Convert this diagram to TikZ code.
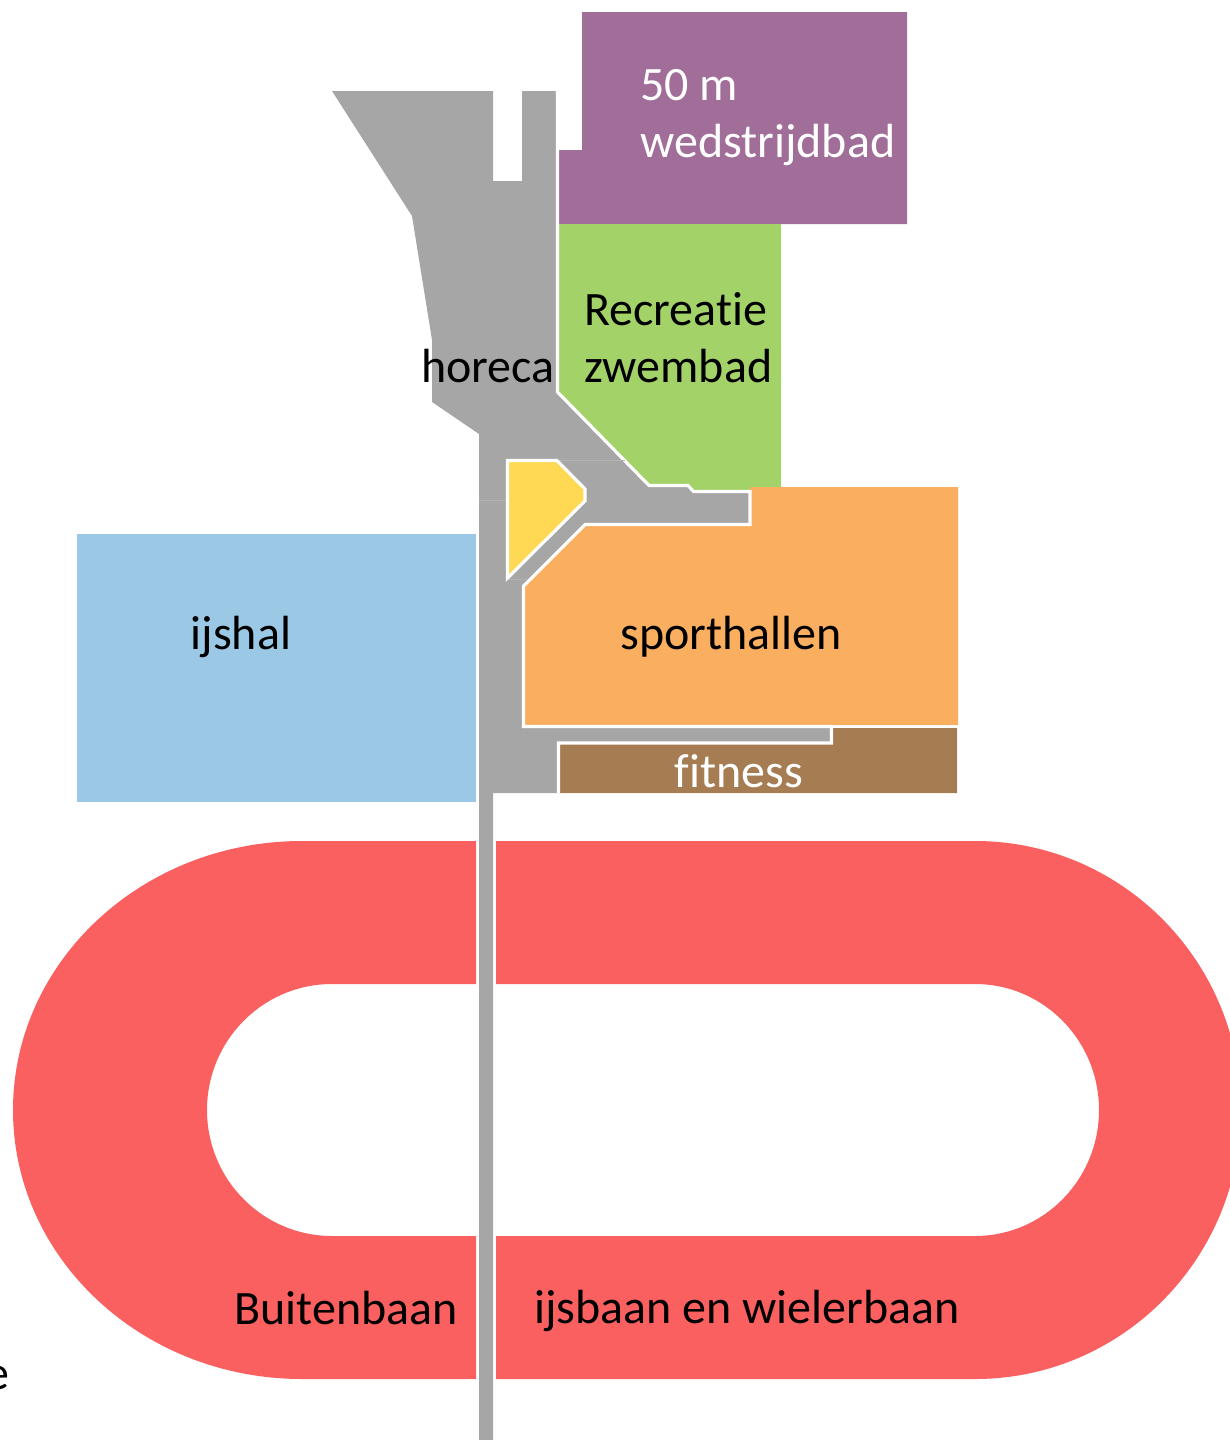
\documentclass[tikz,border=0pt]{standalone}
\usepackage{fontspec}
\setmainfont[Ligatures=CommonOff]{Carlito}
\definecolor{Purple}{RGB}{161, 110, 153}
\definecolor{Green}{RGB}{163, 210, 105}
\definecolor{Grey}{RGB}{166, 166, 166}
\definecolor{Yellow}{RGB}{255, 217, 84}
\definecolor{Orange}{RGB}{249, 174, 96}
\definecolor{Blue}{RGB}{155, 200, 229}
\definecolor{Brown}{RGB}{166, 124, 82}
\definecolor{Red}{RGB}{249, 96, 95}
\begin{document}
\begin{tikzpicture}[x=0.02cm, y=-0.02cm,
                zone/.style={draw=white, line width=1.8pt, line join=miter},
                label/.style={inner sep=0pt, align=left, font=\fontsize{27.3}{32.45}\selectfont},
                seam/.style={draw=Grey!85!white, line width=0.4pt}]

                \useasboundingbox (0,0) rectangle (1230,1440);
                \clip (0,0) rectangle (1230,1440);

                % Track
                \fill[Red] (476,841) -- (302,841) arc[start angle=-90, end angle=-270, x radius=289, y radius=269]
                    -- (476,1379) -- (476,1236) -- (332,1236)
                    arc[start angle=90, end angle=270, x radius=125, y radius=126] -- (476,984) -- cycle;
                \fill[Red] (496,841) -- (975,841) arc[start angle=-90, end angle=90, x radius=266, y radius=269]
                    -- (496,1379) -- (496,1236) -- (975,1236)
                    arc[start angle=90, end angle=-90, x radius=124, y radius=126] -- (496,984) -- cycle;

                % Halls
                \fill[Blue] (77,534) rectangle (476,802);
                \fill[Purple] (582,12) -- (907,12) -- (907,224) -- (559,224) -- (559,150) -- (582,150) -- cycle;
                \fill[Green] (559,224) -- (781,224) -- (781,495) -- (696,495) -- (690,489) -- (649,489) -- (559,392) -- cycle;
                \fill[Orange] (750,487) -- (958,487) -- (958,725) -- (523,725) -- (523,587) -- (585,526) -- (750,526) -- cycle;
                \fill[Brown] (833,728) -- (957,728) -- (957,793) -- (559,793) -- (559,744) -- (833,744) -- cycle;

                % Corridor
                \fill[Grey] (332,91) -- (493,91) -- (493,181) -- (522,181) -- (522,91) -- (557,91) -- (557,392)
                    -- (649,485.5) -- (688,485.5) -- (693.5,491.5) -- (750,491.5) -- (750,524.5) -- (585,524.5) -- (523.5,586)
                    -- (523.5,726.5) -- (831.5,726.5) -- (831.5,743) -- (558.5,743) -- (558.5,793) -- (493,793)
                    -- (493,1440) -- (479,1440) -- (479,434) -- (432,402) -- (432,340) -- (412,216) -- cycle;
                \draw[zone] (557.5,91) -- (557.5,392) -- (649,485.5) -- (688,485.5) -- (693.5,491.5) -- (750,491.5) -- (750,524.5)
                    -- (585,524.5) -- (523.5,586) -- (523.5,726.5) -- (831.5,726.5) -- (831.5,743) -- (558.5,743) -- (558.5,793);
                \draw[seam] (556,460) -- (625,460);
                \draw[seam] (479,500) -- (507,500);
                \draw[seam] (507,579) -- (528,579);

                % Yellow block
                \filldraw[zone, fill=Yellow] (507.5,460.5) -- (557,460.5) -- (585,489) -- (585,501) -- (507.5,578) -- cycle;

                % Labels
                \node[label, text=white, anchor=west] (bad) at (640,117.5) {50 m\\wedstrijdbad};
                \node[label, anchor=west] (recreatie) at (584,338) {Recreatie\\zwembad};
                \node[label] (horeca) at (488,366) {horeca};
                \node[label] (ijshal) at (241,637) {ijshal};
                \node[label] (sporthallen) at (731,637) {sporthallen};
                \node[label, text=white] (fitness) at (739,771) {fitness};
                \node[label] (buitenbaan) at (346,1308) {Buitenbaan};
                \node[label] (ijsbaan) at (747,1311) {ijsbaan en wielerbaan};
                \node[label, anchor=east] (rest) at (10,1378) {e};
\end{tikzpicture}
\end{document}
